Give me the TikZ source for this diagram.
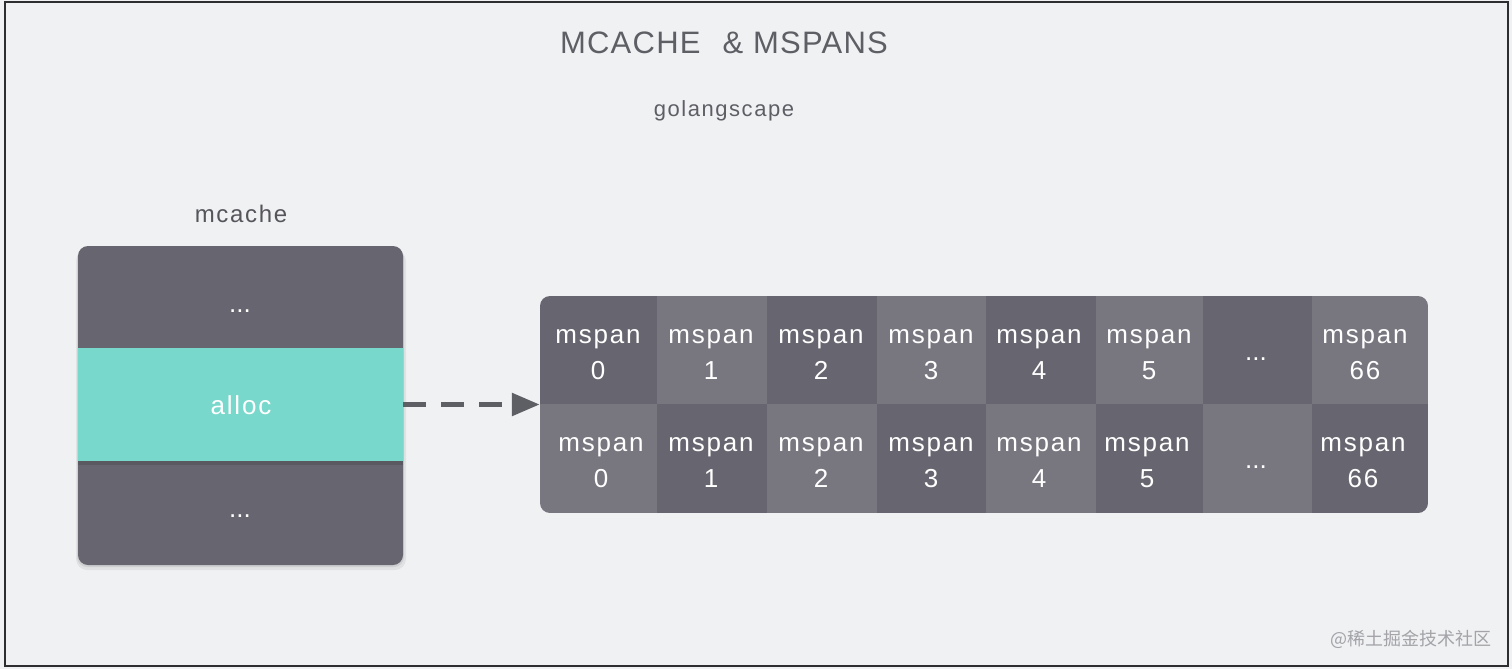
\documentclass[tikz,border=0pt]{standalone}
\usepackage{fontspec}
\setmainfont{Liberation Sans}
\newfontfamily\cjk{Noto Sans CJK SC}
\usetikzlibrary{arrows.meta}
\definecolor{bgc}{HTML}{F0F1F3}
\definecolor{framec}{HTML}{2E2E30}
\definecolor{titlec}{HTML}{5E5E65}
\definecolor{boxdark}{HTML}{67656F}
\definecolor{celllight}{HTML}{78767F}
\definecolor{tealc}{HTML}{79D8CC}
\definecolor{wmc}{HTML}{A3A3A8}
\tikzset{
  lbl/.style={inner sep=0pt, anchor=base, text=white, font=\fontsize{26}{26}\selectfont\addfontfeature{LetterSpace=7}},
  dotl/.style={inner sep=0pt, anchor=base, text=white, font=\fontsize{26}{26}\selectfont},
  darkcell/.style={fill=boxdark},
  lightcell/.style={fill=celllight},
}
\begin{document}
\begin{tikzpicture}[x=1pt,y=-1pt]
\useasboundingbox (0,0) rectangle (1512,669);
\fill[bgc] (0,0) rectangle (1512,669);
\draw[framec, line width=2pt] (4.5,2.5) rectangle (1507.5,665.5);

% titles
\node[inner sep=0pt, anchor=base, text=titlec, font=\fontsize{31}{31}\selectfont\addfontfeature{LetterSpace=4}] (title) at (724,53) {MCACHE\hspace{22pt}\& MSPANS};
\node[inner sep=0pt, anchor=base, text=titlec, font=\fontsize{22}{22}\selectfont\addfontfeature{LetterSpace=7}] (sub) at (724,116) {golangscape};
\node[inner sep=0pt, anchor=base, text=titlec!90!black, font=\fontsize{24}{24}\selectfont\addfontfeature{LetterSpace=7}] (mclabel) at (241,222) {mcache};

% mcache box with shadow
\fill[black, opacity=0.06, rounded corners=11] (76,250) rectangle (406,570);
\fill[black, opacity=0.08, rounded corners=10] (77,248) rectangle (404,567);
\fill[boxdark, rounded corners=10] (78,246) rectangle (403,565);
\fill[black, opacity=0.12] (78,461) rectangle (403,465);
\node[fill=tealc, inner sep=0pt, minimum width=325pt, minimum height=113pt] (alloc) at (240.5,404.5) {};
\node[lbl] (alloctext) at (241,414) {alloc};
\node[dotl] (d1) at (240,312) {...};
\node[dotl] (d2) at (240,517) {...};

% mspans grid
\begin{scope}
\clip[rounded corners=10] (540,296) rectangle (1428,513);
\fill[darkcell]  (540,296) rectangle (657,404);
\fill[lightcell] (657,296) rectangle (767,404);
\fill[darkcell]  (767,296) rectangle (877,404);
\fill[lightcell] (877,296) rectangle (986,404);
\fill[darkcell]  (986,296) rectangle (1096,404);
\fill[lightcell] (1096,296) rectangle (1203,404);
\fill[darkcell]  (1203,296) rectangle (1312,404);
\fill[lightcell] (1312,296) rectangle (1428,404);
\fill[lightcell] (540,404) rectangle (657,513);
\fill[darkcell]  (657,404) rectangle (767,513);
\fill[lightcell] (767,404) rectangle (877,513);
\fill[darkcell]  (877,404) rectangle (986,513);
\fill[lightcell] (986,404) rectangle (1096,513);
\fill[darkcell]  (1096,404) rectangle (1203,513);
\fill[lightcell] (1203,404) rectangle (1312,513);
\fill[darkcell]  (1312,404) rectangle (1428,513);
\end{scope}
\node[inner sep=0pt, minimum width=888pt, minimum height=217pt] (spans) at (984,404.5) {};

% top row labels
\node[lbl] (t0a) at (598,343) {mspan}; \node[lbl] (t0b) at (598,379) {0};
\node[lbl] (t1a) at (711,343) {mspan}; \node[lbl] (t1b) at (711,379) {1};
\node[lbl] (t2a) at (821,343) {mspan}; \node[lbl] (t2b) at (821,379) {2};
\node[lbl] (t3a) at (931,343) {mspan}; \node[lbl] (t3b) at (931,379) {3};
\node[lbl] (t4a) at (1039,343) {mspan}; \node[lbl] (t4b) at (1039,379) {4};
\node[lbl] (t5a) at (1149,343) {mspan}; \node[lbl] (t5b) at (1149,379) {5};
\node[dotl] (t6) at (1256,360) {...};
\node[lbl] (t7a) at (1365,343) {mspan}; \node[lbl] (t7b) at (1365,379) {66};
% bottom row labels
\node[lbl] (b0a) at (601,451) {mspan}; \node[lbl] (b0b) at (601,487) {0};
\node[lbl] (b1a) at (711,451) {mspan}; \node[lbl] (b1b) at (711,487) {1};
\node[lbl] (b2a) at (821,451) {mspan}; \node[lbl] (b2b) at (821,487) {2};
\node[lbl] (b3a) at (931,451) {mspan}; \node[lbl] (b3b) at (931,487) {3};
\node[lbl] (b4a) at (1039,451) {mspan}; \node[lbl] (b4b) at (1039,487) {4};
\node[lbl] (b5a) at (1147,451) {mspan}; \node[lbl] (b5b) at (1147,487) {5};
\node[dotl] (b6) at (1256,468) {...};
\node[lbl] (b7a) at (1363,451) {mspan}; \node[lbl] (b7b) at (1363,487) {66};

% arrow
\draw[titlec, line width=5.5pt, dash pattern=on 23pt off 15pt, -{Triangle[length=28pt,width=22pt]}] (alloc.east) -- (spans.west);

% watermark
\node[inner sep=0pt, anchor=base east, text=wmc, font=\cjk\fontsize{18}{18}\selectfont] (wm) at (1492,645) {@稀土掘金技术社区};
\end{tikzpicture}
\end{document}
